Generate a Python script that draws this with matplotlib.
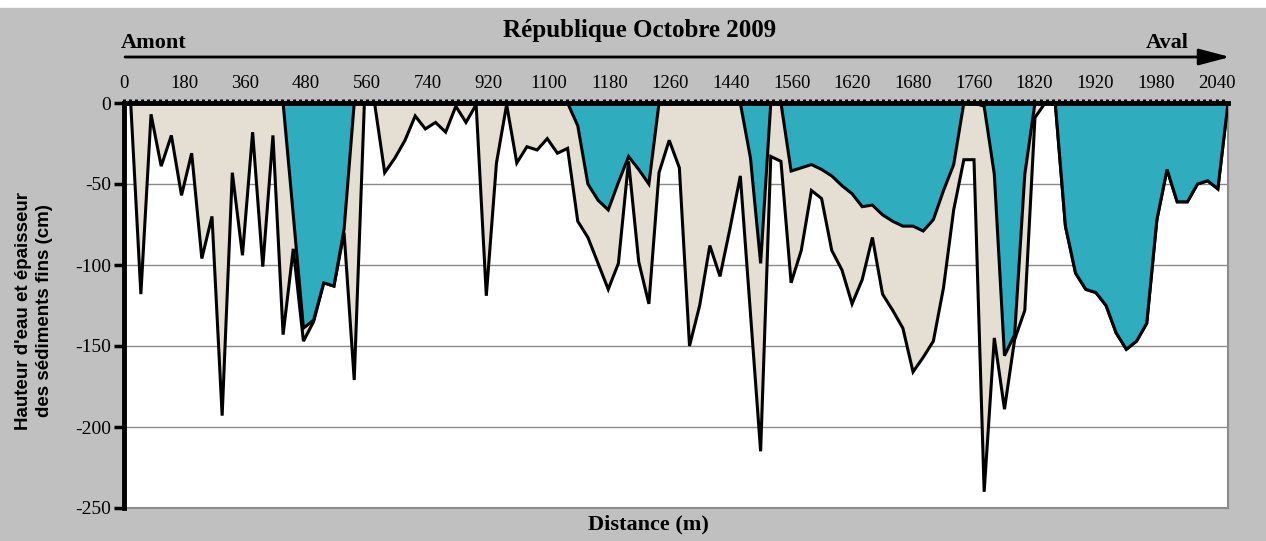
import numpy as np
import matplotlib
matplotlib.use("Agg")
import matplotlib.pyplot as plt
from matplotlib.patches import Rectangle, FancyArrowPatch

# top axis labels (distance along the reach, m)
distance_labels = ["0", "180", "360", "480", "560", "740", "920", "1100", "1180",
                   "1260", "1440", "1560", "1620", "1680", "1760", "1820", "1920",
                   "1980", "2040"]

# bottom of fine sediments (water + sediment thickness), cm
fond = [0, -118, -7, -39, -20, -57, -31, -96, -70, -193,
        -43, -94, -18, -101, -20, -143, -90, -147, -135, -111,
        -113, -80, -171, 0, 0, -43, -34, -23, -8, -16,
        -12, -18, -2, -12, -1, -119, -37, -1, -37, -27,
        -29, -22, -31, -28, -73, -83, -99, -115, -99, -36,
        -98, -124, -43, -23, -40, -150, -125, -88, -107, -77,
        -45, -130, -215, -33, -36, -111, -91, -54, -59, -91,
        -103, -124, -109, -83, -118, -128, -139, -166, -157, -147,
        -114, -66, -35, -35, -240, -145, -189, -146, -128, -9,
        0, 0, -76, -105, -115, -117, -125, -142, -152, -147,
        -136, -72, -41, -61, -61, -50, -48, -53, 0]

# water height, cm
eau = [0, 0, 0, 0, 0, 0, 0, 0, 0, 0,
       0, 0, 0, 0, 0, 0, -69, -139, -134, -111,
       -113, -78, 0, 0, 0, 0, 0, 0, 0, 0,
       0, 0, 0, 0, 0, 0, 0, 0, 0, 0,
       0, 0, 0, 0, -14, -50, -60, -66, -49, -33,
       -41, -50, 0, 0, 0, 0, 0, 0, 0, 0,
       0, -34, -99, 0, 0, -42, -40, -38, -41, -45,
       -51, -56, -64, -63, -69, -73, -76, -76, -79, -72,
       -54, -38, 0, 0, -2, -44, -156, -143, -44, 0,
       0, 0, -76, -105, -115, -117, -125, -142, -152, -147,
       -136, -72, -41, -61, -61, -50, -48, -53, 0]

y_ticks = [0, -50, -100, -150, -200, -250]

BLUE = "#2fadbf"
SAND = "#e4ded3"
GREY = "#c0c0c0"
SERIF = "Liberation Serif"

W, H = 1266, 541


def px(x, y):
    return x / W, 1 - y / H


fig = plt.figure(figsize=(W / 100, H / 100), dpi=100)
fig.patch.set_facecolor("white")
fig.add_artist(Rectangle((0, 0), 1, 1 - 8 / H, transform=fig.transFigure,
                         color=GREY, zorder=-10))

ax = fig.add_axes([124 / W, 1 - 508 / H, (1228 - 124) / W, (508 - 103) / H])
ax.set_facecolor("white")

x = np.arange(len(fond))
ax.fill_between(x, 0, fond, color=SAND, lw=0, zorder=1)
ax.plot(x, fond, color="k", lw=2.2, zorder=2, solid_joinstyle="miter")
ax.fill_between(x, 0, eau, color=BLUE, lw=0, zorder=3)
ax.plot(x, eau, color="k", lw=2.2, zorder=4, solid_joinstyle="miter")

x0, step = -0.66, 5.974
ax.set_xlim(x0, len(fond) - 1)
ax.set_ylim(-250, 0)

ax.xaxis.set_ticks_position("top")
ax.xaxis.set_label_position("top")
ax.set_xticks([x0 + k * step for k in range(len(distance_labels))], distance_labels)
ax.set_xticks(np.arange(x0, len(fond) - 1 + 0.01, step / 10), minor=True)
ax.tick_params(axis="x", which="both", direction="out", length=3.2, width=2.2,
               color="k", pad=5, labelsize=13.5)

ax.set_yticks(y_ticks, [str(v) for v in y_ticks])
ax.tick_params(axis="y", direction="out", length=7, width=2.5, pad=2, labelsize=14)
for lab in ax.get_xticklabels() + ax.get_yticklabels():
    lab.set_family(SERIF)

ax.yaxis.grid(True, color="#8a8a8a", lw=1)
ax.set_axisbelow(True)

for side in ("left", "top"):
    ax.spines[side].set_linewidth(3.5)
    ax.spines[side].set_color("k")
    ax.spines[side].set_zorder(10)
for side in ("right", "bottom"):
    ax.spines[side].set_linewidth(1.5)
    ax.spines[side].set_color("#8c8c8c")

# header: title, upstream/downstream arrow
fig.text(*px(640, 31), "République Octobre 2009", ha="center", va="center",
         fontsize=18, fontweight="bold", family=SERIF)
fig.text(*px(121, 48), "Amont", ha="left", va="baseline",
         fontsize=16, fontweight="bold", family=SERIF)
fig.text(*px(1189, 48), "Aval", ha="right", va="baseline",
         fontsize=16, fontweight="bold", family=SERIF)
fig.add_artist(FancyArrowPatch(px(125, 57), px(1230, 57), transform=fig.transFigure,
                               arrowstyle="-|>,head_length=1.9,head_width=0.5",
                               mutation_scale=10, lw=2, color="k",
                               shrinkA=0, shrinkB=0))

fig.text(*px(34, 311), "Hauteur d'eau et épaisseur\ndes sédiments fins (cm)",
         rotation=90, ha="center", va="center", fontsize=13.5, fontweight="bold",
         family="Liberation Sans", linespacing=1.25)
fig.text(*px(648, 524), "Distance (m)", ha="center", va="center",
         fontsize=16, fontweight="bold", family=SERIF)

fig.savefig("out.png", dpi=100)
